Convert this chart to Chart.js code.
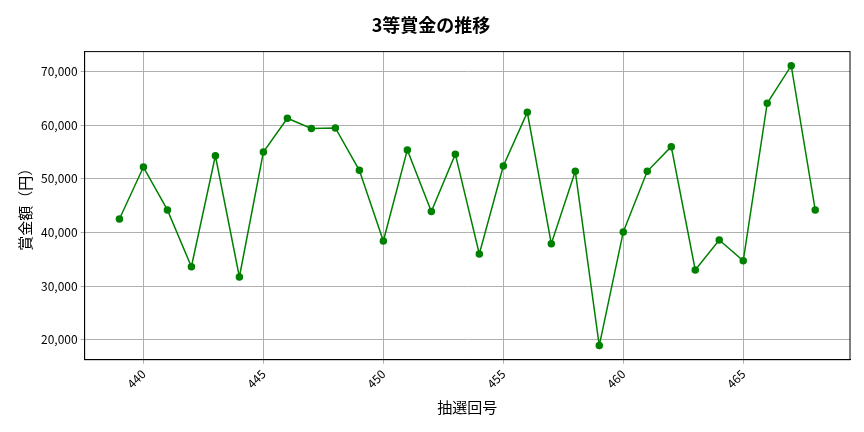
<!DOCTYPE html>
<html><head><meta charset="utf-8">
<script src="https://cdn.jsdelivr.net/npm/chart.js@4"></script>
<style>body{margin:0;background:#fff}#w{width:864px;height:432px}</style>
</head><body><div id="w"><canvas id="c"></canvas></div>
<script>
const draws = [439,440,441,442,443,444,445,446,447,448,449,450,451,452,453,454,455,456,457,458,459,460,461,462,463,464,465,466,467,468];
const prizes = [42500,52200,44200,33600,54300,31700,55000,61300,59400,59500,51600,38400,55400,43900,54600,36000,52400,62400,37900,51400,18900,40100,51400,56000,33000,38600,34700,64100,71100,44200];
const xTicks = [440,445,450,455,460,465];
const yTicks = [20000,30000,40000,50000,60000,70000];
const F = "'Noto Sans CJK JP','Noto Sans',sans-serif";
new Chart(document.getElementById('c'), {
  type: 'line',
  data: { datasets: [{ data: draws.map((d,i)=>({x:d,y:prizes[i]})), borderColor:'#008000', backgroundColor:'#008000', borderWidth:1.5, pointRadius:3, tension:0 }] },
  options: {
    responsive:true, maintainAspectRatio:false, animation:false,
    layout:{padding:{left:12,right:14,top:10,bottom:12}},
    plugins:{ legend:{display:false}, title:{display:true,text:'3等賞金の推移',color:'#000',font:{family:F,size:18,weight:'bold'},padding:{top:4,bottom:16}} },
    scales:{
      x:{ type:'linear', min:437.55, max:469.45,
        afterBuildTicks:s=>{s.ticks=xTicks.map(v=>({value:v}));},
        ticks:{color:'#000',font:{family:F,size:12},maxRotation:45,minRotation:45},
        grid:{color:'#b0b0b0',drawTicks:true,tickLength:4}, border:{color:'#000'},
        title:{display:true,text:'抽選回号',color:'#000',font:{family:F,size:15}} },
      y:{ min:16270, max:73730,
        afterBuildTicks:s=>{s.ticks=yTicks.map(v=>({value:v}));},
        ticks:{color:'#000',font:{family:F,size:12},callback:v=>v.toLocaleString('en-US')},
        grid:{color:'#b0b0b0',tickLength:4}, border:{color:'#000'},
        title:{display:true,text:'賞金額（円）',color:'#000',font:{family:F,size:15}} }
    }
  },
  plugins:[{id:'box',afterDraw(c){const a=c.chartArea,g=c.ctx;g.save();g.strokeStyle='#000';g.lineWidth=1;g.strokeRect(a.left,a.top,a.right-a.left,a.bottom-a.top);g.restore();}}]
});
</script></body></html>
